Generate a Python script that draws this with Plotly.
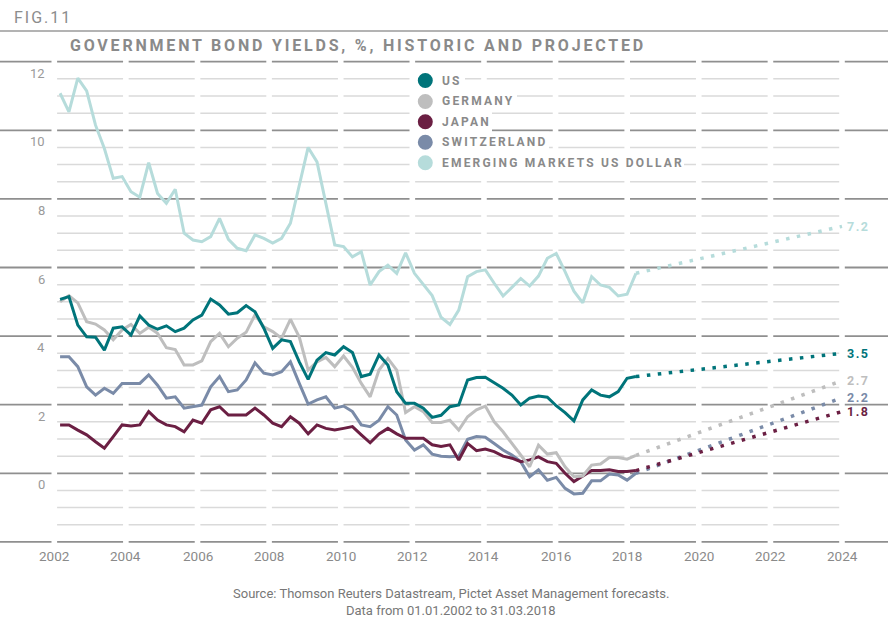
import pandas as pd
import numpy as np
import plotly.graph_objects as go

# ---------------- data ----------------
dates = pd.date_range("2002-03-01", "2018-03-31", periods=66)
proj_date = "2024-01-01"

us = [5.07, 5.15, 4.32, 3.98, 3.97, 3.59, 4.23, 4.27, 4.03, 4.59,
      4.32, 4.20, 4.30, 4.13, 4.23, 4.47, 4.61, 5.08, 4.91, 4.64,
      4.68, 4.89, 4.71, 4.23, 3.64, 3.89, 3.84, 3.25, 2.74, 3.30,
      3.52, 3.45, 3.69, 3.52, 2.82, 2.89, 3.45, 3.16, 2.38, 2.04,
      2.04, 1.90, 1.63, 1.69, 1.94, 1.99, 2.72, 2.79, 2.80, 2.64,
      2.48, 2.28, 1.99, 2.19, 2.25, 2.22, 1.97, 1.77, 1.53, 2.14,
      2.43, 2.28, 2.23, 2.38, 2.77, 2.82]
germany = [5.00, 5.18, 4.97, 4.42, 4.35, 4.18, 3.89, 4.18, 4.34, 4.08,
           4.26, 4.08, 3.66, 3.61, 3.16, 3.16, 3.28, 3.84, 4.08, 3.69,
           3.94, 4.11, 4.62, 4.27, 4.13, 3.94, 4.49, 3.97, 3.01, 3.25,
           3.38, 3.11, 3.42, 3.09, 2.62, 2.23, 3.01, 3.35, 3.01, 1.77,
           1.94, 1.80, 1.48, 1.48, 1.55, 1.26, 1.65, 1.85, 1.96, 1.50,
           1.21, 0.87, 0.53, 0.19, 0.82, 0.56, 0.60, 0.19, -0.10, -0.08,
           0.24, 0.27, 0.46, 0.46, 0.41, 0.52]
japan = [1.41, 1.41, 1.26, 1.12, 0.92, 0.73, 1.07, 1.41, 1.38, 1.41,
         1.80, 1.55, 1.41, 1.36, 1.21, 1.55, 1.46, 1.85, 1.94, 1.70,
         1.70, 1.70, 1.90, 1.70, 1.46, 1.36, 1.65, 1.46, 1.15, 1.41,
         1.31, 1.26, 1.31, 1.36, 1.12, 0.89, 1.15, 1.31, 1.15, 1.02,
         1.02, 1.02, 0.83, 0.78, 0.83, 0.39, 0.87, 0.66, 0.71, 0.63,
         0.50, 0.44, 0.34, 0.39, 0.48, 0.34, 0.29, 0.00, -0.24, -0.08,
         0.08, 0.08, 0.10, 0.05, 0.05, 0.08]
switzerland = [3.40, 3.40, 3.11, 2.52, 2.28, 2.48, 2.33, 2.62, 2.62, 2.62,
               2.87, 2.57, 2.19, 2.23, 1.90, 1.94, 1.99, 2.52, 2.82, 2.38,
               2.43, 2.72, 3.22, 2.92, 2.87, 2.96, 3.25, 2.62, 2.02, 2.14,
               2.23, 1.90, 1.96, 1.80, 1.41, 1.36, 1.55, 1.94, 1.70, 0.97,
               0.68, 0.83, 0.56, 0.50, 0.48, 0.50, 0.99, 1.07, 1.05, 0.87,
               0.68, 0.53, 0.34, -0.10, 0.10, -0.20, -0.12, -0.44, -0.60, -0.58,
               -0.22, -0.22, -0.02, -0.05, -0.20, 0.00]
em = [11.08, 10.54, 11.52, 11.15, 10.15, 9.47, 8.60, 8.65, 8.21, 8.05,
      9.06, 8.16, 7.87, 8.28, 7.00, 6.80, 6.75, 6.90, 7.43, 6.82,
      6.56, 6.49, 6.95, 6.85, 6.71, 6.85, 7.29, 8.36, 9.50, 9.08,
      7.87, 6.66, 6.61, 6.31, 6.46, 5.49, 5.88, 6.07, 5.83, 6.43,
      5.83, 5.49, 5.18, 4.55, 4.34, 4.76, 5.73, 5.88, 5.93, 5.54,
      5.17, 5.42, 5.68, 5.46, 5.75, 6.27, 6.41, 5.88, 5.31, 4.97,
      5.73, 5.49, 5.42, 5.17, 5.22, 5.83]

us_proj = 3.5
germany_proj = 2.7
japan_proj = 1.8
switzerland_proj = 2.2
em_proj = 7.2

series_names = ["US", "GERMANY", "JAPAN", "SWITZERLAND", "EMERGING MARKETS US DOLLAR"]
y_tick_values = [12, 10, 8, 6, 4, 2, 0]
x_tick_years = list(range(2002, 2025, 2))

# ---------------- styling ----------------
COLORS = {"US": "#00747a", "GERMANY": "#bebebe", "JAPAN": "#6b1f43",
          "SWITZERLAND": "#7a8ba8", "EMERGING MARKETS US DOLLAR": "#b6dcdb"}
series = {"US": (us, us_proj), "GERMANY": (germany, germany_proj),
          "JAPAN": (japan, japan_proj), "SWITZERLAND": (switzerland, switzerland_proj),
          "EMERGING MARKETS US DOLLAR": (em, em_proj)}

W, H = 888, 618
T, B = 50, 70
PX2002, PX2024 = 54.3, 842.0
D2002, D2024 = pd.Timestamp("2002-01-01"), pd.Timestamp("2024-01-01")
Y0PX, UNIT = 473.3, 34.3
FONT = "Roboto, 'Open Sans', sans-serif"


def xdate(px):
    return D2002 + (px - PX2002) / (PX2024 - PX2002) * (D2024 - D2002)


def yval(px):
    return (Y0PX - px) / UNIT


def ypaper(px):
    return (H - B - px) / (H - T - B)


def xpaper(px):
    return px / W


fig = go.Figure()

# ---------------- gridlines (segmented) ----------------
ticks = [pd.Timestamp(f"{y}-01-01") for y in x_tick_years]
half_gap = xdate(PX2002 + 2.8) - D2002
left_edge, right_edge = xdate(0), xdate(W)

major_levels = list(range(-2, 13, 2))
minor_levels = [v for v in np.arange(-2, 12.01, 0.5) if abs(v % 2) > 1e-9]

minor_cuts = []
for i in range(len(ticks) - 1):
    minor_cuts.append((ticks[i] + half_gap, ticks[i + 1] - half_gap))
xs, ys = [], []
for v in minor_levels:
    for a, b in minor_cuts:
        xs += [a, b, None]
        ys += [v, v, None]
fig.add_trace(go.Scatter(x=xs, y=ys, mode="lines", line=dict(color="#dadada", width=1.5),
                         hoverinfo="skip", showlegend=False))

major_bounds = [left_edge] + [t for t in ticks] + [right_edge]
major_cuts = []
for i in range(len(major_bounds) - 1):
    a = major_bounds[i] if i == 0 else major_bounds[i] + half_gap
    b = major_bounds[i + 1] if i + 1 == len(major_bounds) - 1 else major_bounds[i + 1] - half_gap
    major_cuts.append((a, b))
xs, ys = [], []
for v in major_levels:
    for a, b in major_cuts:
        xs += [a, b, None]
        ys += [v, v, None]
fig.add_trace(go.Scatter(x=xs, y=ys, mode="lines", line=dict(color="#8f8f8f", width=1.8),
                         hoverinfo="skip", showlegend=False))

# ---------------- data lines ----------------
draw_order = ["EMERGING MARKETS US DOLLAR", "SWITZERLAND", "JAPAN", "GERMANY", "US"]
for name in draw_order:
    vals, pv = series[name]
    fig.add_trace(go.Scatter(x=[dates[-1], proj_date], y=[vals[-1], pv], mode="lines",
                             line=dict(color=COLORS[name], width=3.5, dash="3.5px,7.5px"),
                             hoverinfo="skip", showlegend=False))
for name in draw_order:
    vals, pv = series[name]
    fig.add_trace(go.Scatter(x=dates, y=vals, mode="lines", name=name,
                             line=dict(color=COLORS[name], width=3),
                             hoverinfo="skip", showlegend=False))

# ---------------- annotations ----------------
ann = []
shapes = []

# top rule
shapes.append(dict(type="line", xref="paper", yref="paper", x0=0, x1=1,
                   y0=ypaper(31), y1=ypaper(31), line=dict(color="#9a9a9a", width=1.5)))

ann.append(dict(text="FIG.11", xref="paper", yref="paper", x=xpaper(12), y=ypaper(17.5),
                xanchor="left", yanchor="middle", align="left", showarrow=False,
                font=dict(family=FONT, size=16, color="#8c8c8c")))
ann.append(dict(text="<b>GOVERNMENT BOND YIELDS, %, HISTORIC AND PROJECTED</b>",
                xref="paper", yref="paper", x=xpaper(67.5), y=ypaper(46),
                xanchor="left", yanchor="middle", align="left", showarrow=False,
                font=dict(family=FONT, size=16, color="#8a8a8a")))

# y tick labels
for v in y_tick_values:
    ann.append(dict(text=str(v), xref="paper", yref="y", x=xpaper(46.5), y=v, yshift=-11.5,
                    xanchor="right", yanchor="middle", showarrow=False,
                    font=dict(family=FONT, size=13, color="#9a9a9a")))
# x tick labels
for yr in x_tick_years:
    ann.append(dict(text=str(yr), xref="x", yref="paper", x=f"{yr}-01-01", y=ypaper(555.5),
                    xanchor="center", yanchor="middle", showarrow=False,
                    font=dict(family=FONT, size=13.5, color="#8a8a8a")))

# end labels
for name in series_names:
    vals, pv = series[name]
    ann.append(dict(text=f"<b>{pv}</b>", xref="x", yref="y", x=proj_date, y=pv, xshift=3,
                    xanchor="left", yanchor="middle", align="left", showarrow=False,
                    font=dict(family=FONT, size=12.5, color=COLORS[name])))

# legend
leg_y = [80.5, 101.5, 121.8, 142.3, 162.7]
leg_end = [465, 517, 492, 549, 684]
for name, yc, xe in zip(series_names, leg_y, leg_end):
    shapes.append(dict(type="rect", xref="paper", yref="paper", x0=xpaper(413), x1=xpaper(xe),
                       y0=ypaper(yc + 10.5), y1=ypaper(yc - 10.5), fillcolor="white",
                       line=dict(width=0), layer="above"))
    shapes.append(dict(type="circle", xref="paper", yref="paper", x0=xpaper(425.3 - 7.5),
                       x1=xpaper(425.3 + 7.5), y0=ypaper(yc + 7.5), y1=ypaper(yc - 7.5),
                       fillcolor=COLORS[name], line=dict(width=0), layer="above"))
    ann.append(dict(text=f"<b>{name}</b>", xref="paper", yref="paper", x=xpaper(440),
                    y=ypaper(yc), xanchor="left", yanchor="middle", align="left",
                    showarrow=False, font=dict(family=FONT, size=12, color="#8a8a8a")))

# source
ann.append(dict(text="Source: Thomson Reuters Datastream, Pictet Asset Management forecasts.",
                xref="paper", yref="paper", x=xpaper(451), y=ypaper(593.5),
                xanchor="center", yanchor="middle", showarrow=False,
                font=dict(family=FONT, size=13, color="#777777")))
ann.append(dict(text="Data from 01.01.2002 to 31.03.2018",
                xref="paper", yref="paper", x=xpaper(451), y=ypaper(610.5),
                xanchor="center", yanchor="middle", showarrow=False,
                font=dict(family=FONT, size=13, color="#777777")))

fig.update_layout(
    width=W, height=H, margin=dict(l=0, r=0, t=T, b=B),
    paper_bgcolor="white", plot_bgcolor="white",
    showlegend=False, hovermode=False,
    xaxis=dict(type="date", range=[left_edge, right_edge], visible=False),
    yaxis=dict(range=[yval(H - B), yval(T)], visible=False),
    annotations=ann, shapes=shapes,
)

post = """
document.body.style.margin = '0';
var gd = document.getElementById('{plot_id}');
var sp = {
  'FIG.11': '2px',
  'GOVERNMENT BOND YIELDS, %, HISTORIC AND PROJECTED': '2.8px',
  'US': '2.2px', 'GERMANY': '2.2px', 'JAPAN': '2.2px', 'SWITZERLAND': '2.2px',
  'EMERGING MARKETS US DOLLAR': '2.2px',
  '3.5': '1.5px', '2.7': '1.5px', '2.2': '1.5px', '1.8': '1.5px', '7.2': '1.5px'
};
gd.querySelectorAll('text.annotation-text').forEach(function (t) {
  var s = sp[t.textContent];
  if (s) { t.style.letterSpacing = s; }
});
"""
fig.write_html("out.html", post_script=post, config={"displayModeBar": False})
